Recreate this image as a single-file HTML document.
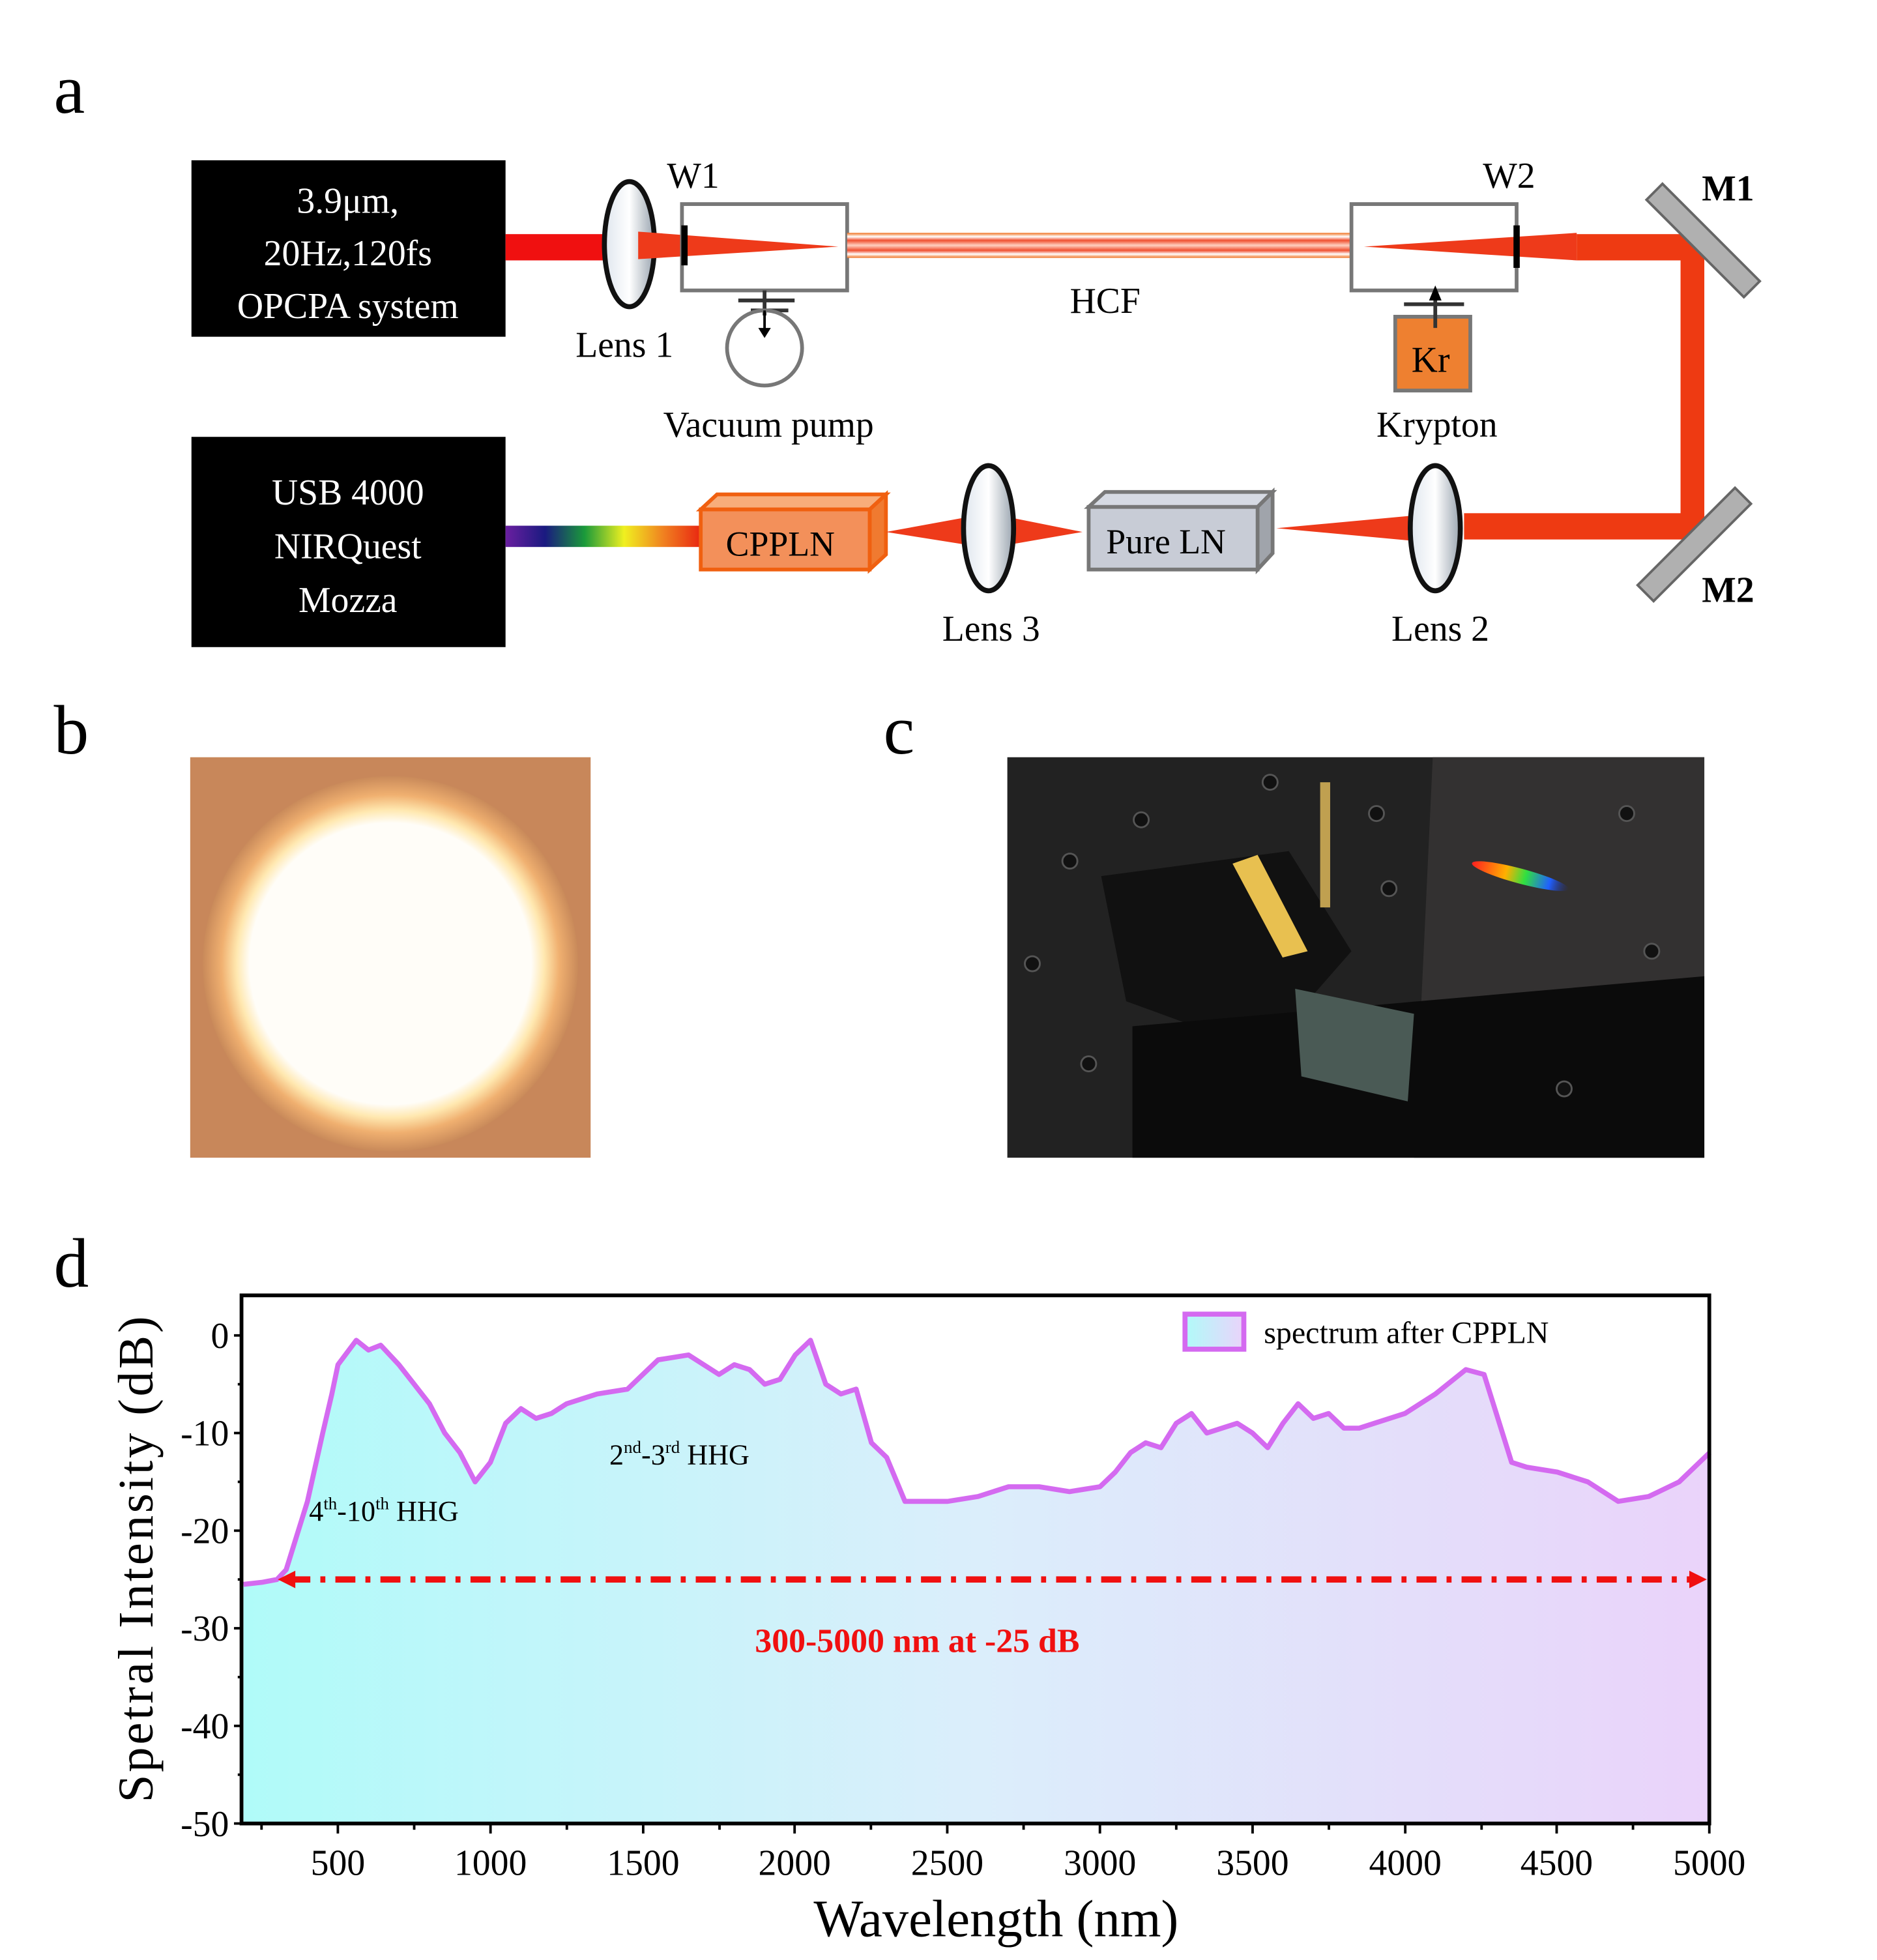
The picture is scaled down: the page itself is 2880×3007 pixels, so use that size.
<!DOCTYPE html>
<html><head><meta charset="utf-8"><style>html,body{margin:0;padding:0;background:#fff}svg{display:block}</style></head><body>
<svg width="2880" height="3007" viewBox="0 0 1500 1566" xmlns="http://www.w3.org/2000/svg" font-family="Liberation Serif, serif">
<defs>
<linearGradient id="lens" x1="0" x2="1"><stop offset="0" stop-color="#dfe6ee"/><stop offset="0.5" stop-color="#ffffff"/><stop offset="1" stop-color="#9aa5b0"/></linearGradient>
<linearGradient id="rain" x1="0" x2="1"><stop offset="0" stop-color="#6a1fa0"/><stop offset="0.2" stop-color="#1a1a80"/><stop offset="0.4" stop-color="#1a9a3a"/><stop offset="0.6" stop-color="#f0f020"/><stop offset="0.8" stop-color="#f08020"/><stop offset="1" stop-color="#e82010"/></linearGradient>
<linearGradient id="fib" x1="0" y1="0" x2="0" y2="1"><stop offset="0" stop-color="#f07020"/><stop offset="0.15" stop-color="#fff"/><stop offset="0.3" stop-color="#f05030"/><stop offset="0.5" stop-color="#ffd0c0"/><stop offset="0.7" stop-color="#f05030"/><stop offset="0.85" stop-color="#fff"/><stop offset="1" stop-color="#f07020"/></linearGradient>
<radialGradient id="sun" cx="0.5" cy="0.5" r="0.5"><stop offset="0.75" stop-color="#fffdf8"/><stop offset="0.82" stop-color="#ffe8b0"/><stop offset="0.9" stop-color="#f0b070"/><stop offset="1" stop-color="#c98a5a"/></radialGradient>
<linearGradient id="fillg" x1="0" x2="1"><stop offset="0" stop-color="#b0fbf9"/><stop offset="0.5" stop-color="#dbeefb"/><stop offset="1" stop-color="#ead3fa"/></linearGradient>
<linearGradient id="leg" x1="0" x2="1"><stop offset="0" stop-color="#b0fbf9"/><stop offset="1" stop-color="#ead3fa"/></linearGradient>
<linearGradient id="streak" x1="0" x2="1"><stop offset="0" stop-color="#ff2020"/><stop offset="0.35" stop-color="#ffb000"/><stop offset="0.55" stop-color="#30e040"/><stop offset="0.8" stop-color="#2060ff"/><stop offset="1" stop-color="#2030a0" stop-opacity="0"/></linearGradient>
</defs>

<text x="43" y="90" font-size="56">a</text>
<rect x="153" y="128" width="251" height="141" fill="#000"/>
<g fill="#fff" font-size="29" text-anchor="middle"><text x="278" y="170">3.9μm,</text><text x="278" y="212">20Hz,120fs</text><text x="278" y="254">OPCPA system</text></g>
<rect x="404" y="187" width="92" height="21" fill="#f01010"/>
<ellipse cx="503" cy="195" rx="20" ry="50" fill="url(#lens)" stroke="#111" stroke-width="4"/>
<polygon points="510,185 670,197 510,207" fill="#ee3a1a"/>
<rect x="545" y="163" width="132" height="69" fill="none" stroke="#777" stroke-width="3"/>
<line x1="547" y1="180" x2="547" y2="212" stroke="#000" stroke-width="5"/>
<text x="533" y="150" font-size="29">W1</text>
<rect x="677" y="186" width="403" height="20" fill="url(#fib)"/>
<rect x="1080" y="163" width="132" height="69" fill="none" stroke="#777" stroke-width="3"/>
<polygon points="1090,197 1260,186 1260,208" fill="#ee3a1a"/>
<line x1="1212" y1="180" x2="1212" y2="214" stroke="#000" stroke-width="5"/>
<text x="1185" y="150" font-size="29">W2</text>
<rect x="1260" y="187" width="102" height="21" fill="#ee3a12"/>
<rect x="1343" y="187" width="19" height="243" fill="#ee3a12"/>
<rect x="1170" y="410" width="192" height="21" fill="#ee3a12"/>
<rect x="1345" y="140" width="18" height="110" fill="#b0b0b0" stroke="#666" stroke-width="2" transform="rotate(-45 1354 185)"/>
<rect x="1345" y="380" width="18" height="110" fill="#b0b0b0" stroke="#666" stroke-width="2" transform="rotate(45 1354 435)"/>
<text x="1360" y="160" font-size="29" font-weight="bold">M1</text>
<text x="1360" y="481" font-size="29" font-weight="bold">M2</text>
<text x="855" y="250" font-size="29">HCF</text>
<text x="460" y="285" font-size="29">Lens 1</text>
<path d="M611 232 V252 M590 240 H635 M600 248 H630" stroke="#333" stroke-width="3" fill="none"/>
<circle cx="611" cy="278" r="30" fill="none" stroke="#777" stroke-width="3"/>
<path d="M611 248 V268" stroke="#000" stroke-width="2"/><polygon points="606,262 616,262 611,270" fill="#000"/>
<text x="530" y="349" font-size="29">Vacuum pump</text>
<rect x="1115" y="253" width="60" height="59" fill="#ee8030" stroke="#777" stroke-width="3"/>
<path d="M1147 232 V262 M1122 243 H1170" stroke="#333" stroke-width="3" fill="none"/>
<polygon points="1142,240 1152,240 1147,228" fill="#000"/>
<text x="1128" y="297" font-size="29">Kr</text>
<text x="1100" y="349" font-size="29">Krypton</text>

<rect x="153" y="349" width="251" height="168" fill="#000"/>
<g fill="#fff" font-size="29" text-anchor="middle"><text x="278" y="403">USB 4000</text><text x="278" y="446">NIRQuest</text><text x="278" y="489">Mozza</text></g>
<rect x="404" y="420" width="158" height="17" fill="url(#rain)"/>
<polygon points="560,407 573,395 708,395 695,407" fill="#f8ad7a" stroke="#f06010" stroke-width="3"/>
<polygon points="695,407 708,395 708,443 695,455" fill="#f07a30" stroke="#f06010" stroke-width="3"/>
<rect x="560" y="407" width="135" height="48" fill="#f3905a" stroke="#f06010" stroke-width="3"/>
<text x="580" y="444" font-size="28">CPPLN</text>
<polygon points="708,425 790,410 865,425 790,438" fill="#ee3a1a"/>
<ellipse cx="790" cy="422" rx="20" ry="50" fill="url(#lens)" stroke="#111" stroke-width="4"/>
<polygon points="870,405 883,393 1017,393 1005,405" fill="#d6dae3" stroke="#777" stroke-width="3"/>
<polygon points="1005,405 1017,393 1017,442 1005,455" fill="#a0a4ab" stroke="#777" stroke-width="3"/>
<rect x="870" y="405" width="135" height="50" fill="#c8ccd6" stroke="#777" stroke-width="3"/>
<text x="884" y="442" font-size="28">Pure LN</text>
<polygon points="1020,422 1150,410 1150,434" fill="#ee3a1a"/>
<ellipse cx="1147" cy="422" rx="20" ry="50" fill="url(#lens)" stroke="#111" stroke-width="4"/>
<text x="753" y="512" font-size="29">Lens 3</text>
<text x="1112" y="512" font-size="29">Lens 2</text>

<text x="43" y="602" font-size="56">b</text>
<rect x="152" y="605" width="320" height="320" fill="#c8875a"/>
<circle cx="312" cy="770" r="150" fill="url(#sun)"/>
<text x="706" y="602" font-size="56">c</text>
<rect x="805" y="605" width="557" height="320" fill="#222"/>
<polygon points="1145,605 1362,605 1362,925 1130,925" fill="#333131"/>
<polygon points="880,700 1030,680 1080,760 1010,840 900,800" fill="#111"/>
<polygon points="905,820 1362,780 1362,925 905,925" fill="#0b0b0b"/>
<polygon points="985,690 1005,683 1045,760 1025,765" fill="#e8c050"/>
<rect x="1055" y="625" width="8" height="100" fill="#c0a050"/>
<polygon points="1035,790 1130,810 1125,880 1040,860" fill="#4a5a55"/>
<ellipse cx="1215" cy="700" rx="40" ry="6" fill="url(#streak)" transform="rotate(15 1215 700)"/>
<g fill="#111" stroke="#555" stroke-width="1.5"><circle cx="855" cy="688" r="6"/><circle cx="912" cy="655" r="6"/><circle cx="1015" cy="625" r="6"/><circle cx="1100" cy="650" r="6"/><circle cx="825" cy="770" r="6"/><circle cx="870" cy="850" r="6"/><circle cx="1110" cy="710" r="6"/><circle cx="1300" cy="650" r="6"/><circle cx="1250" cy="870" r="6"/><circle cx="1320" cy="760" r="6"/></g>

<text x="43" y="1028" font-size="56">d</text>
<path d="M194.6,1265.9 L209.2,1264.3 L221.4,1262 L228.7,1254.2 L245.7,1199.6 L257.9,1145 L265.2,1113.8 L270.1,1090.4 L284.7,1070.9 L294.5,1078.7 L304.2,1074.8 L318.8,1090.4 L331,1106 L343.2,1121.6 L355.4,1145 L367.5,1160.6 L379.7,1184 L391.9,1168.4 L404.1,1137.2 L416.3,1125.5 L428.4,1133.3 L440.6,1129.4 L452.8,1121.6 L477.2,1113.8 L501.5,1109.9 L513.7,1098.2 L525.9,1086.5 L550.2,1082.6 L574.6,1098.2 L586.8,1090.4 L599,1094.3 L611.1,1106 L623.3,1102.1 L635.5,1082.6 L647.7,1070.9 L659.9,1106 L672,1113.8 L684.2,1109.9 L696.4,1152.8 L708.6,1164.5 L723.2,1199.6 L757.3,1199.6 L781.7,1195.7 L806,1187.9 L830.4,1187.9 L854.7,1191.8 L879.1,1187.9 L891.3,1176.2 L903.5,1160.6 L915.6,1152.8 L927.8,1156.7 L940,1137.2 L952.2,1129.4 L964.4,1145 L976.5,1141.1 L988.7,1137.2 L1000.9,1145 L1013.1,1156.7 L1025.3,1137.2 L1037.4,1121.6 L1049.6,1133.3 L1061.8,1129.4 L1074,1141.1 L1086.2,1141.1 L1098.3,1137.2 L1122.7,1129.4 L1147.1,1113.8 L1171.4,1094.3 L1186,1098.2 L1195.8,1129.4 L1208,1168.4 L1220.1,1172.3 L1244.5,1176.2 L1268.9,1184 L1293.2,1199.6 L1317.6,1195.7 L1341.9,1184 L1366.3,1160.6 L1366.3,1457 L194.6,1457 Z" fill="url(#fillg)"/>
<path d="M194.6,1265.9 L209.2,1264.3 L221.4,1262 L228.7,1254.2 L245.7,1199.6 L257.9,1145 L265.2,1113.8 L270.1,1090.4 L284.7,1070.9 L294.5,1078.7 L304.2,1074.8 L318.8,1090.4 L331,1106 L343.2,1121.6 L355.4,1145 L367.5,1160.6 L379.7,1184 L391.9,1168.4 L404.1,1137.2 L416.3,1125.5 L428.4,1133.3 L440.6,1129.4 L452.8,1121.6 L477.2,1113.8 L501.5,1109.9 L513.7,1098.2 L525.9,1086.5 L550.2,1082.6 L574.6,1098.2 L586.8,1090.4 L599,1094.3 L611.1,1106 L623.3,1102.1 L635.5,1082.6 L647.7,1070.9 L659.9,1106 L672,1113.8 L684.2,1109.9 L696.4,1152.8 L708.6,1164.5 L723.2,1199.6 L757.3,1199.6 L781.7,1195.7 L806,1187.9 L830.4,1187.9 L854.7,1191.8 L879.1,1187.9 L891.3,1176.2 L903.5,1160.6 L915.6,1152.8 L927.8,1156.7 L940,1137.2 L952.2,1129.4 L964.4,1145 L976.5,1141.1 L988.7,1137.2 L1000.9,1145 L1013.1,1156.7 L1025.3,1137.2 L1037.4,1121.6 L1049.6,1133.3 L1061.8,1129.4 L1074,1141.1 L1086.2,1141.1 L1098.3,1137.2 L1122.7,1129.4 L1147.1,1113.8 L1171.4,1094.3 L1186,1098.2 L1195.8,1129.4 L1208,1168.4 L1220.1,1172.3 L1244.5,1176.2 L1268.9,1184 L1293.2,1199.6 L1317.6,1195.7 L1341.9,1184 L1366.3,1160.6" fill="none" stroke="#d46af0" stroke-width="4" stroke-linejoin="round"/>
<rect x="193" y="1035" width="1173" height="422" fill="none" stroke="#000" stroke-width="3"/>
<g stroke="#000" stroke-width="2">
<line x1="187" y1="1067" x2="193" y2="1067"/><line x1="187" y1="1145" x2="193" y2="1145"/><line x1="187" y1="1223" x2="193" y2="1223"/><line x1="187" y1="1301" x2="193" y2="1301"/><line x1="187" y1="1379" x2="193" y2="1379"/><line x1="187" y1="1457" x2="193" y2="1457"/>
<line x1="190" y1="1106" x2="193" y2="1106"/><line x1="190" y1="1184" x2="193" y2="1184"/><line x1="190" y1="1262" x2="193" y2="1262"/><line x1="190" y1="1340" x2="193" y2="1340"/><line x1="190" y1="1418" x2="193" y2="1418"/>
<line x1="270" y1="1457" x2="270" y2="1465"/><line x1="392" y1="1457" x2="392" y2="1465"/><line x1="514" y1="1457" x2="514" y2="1465"/><line x1="635" y1="1457" x2="635" y2="1465"/><line x1="757" y1="1457" x2="757" y2="1465"/><line x1="879" y1="1457" x2="879" y2="1465"/><line x1="1001" y1="1457" x2="1001" y2="1465"/><line x1="1123" y1="1457" x2="1123" y2="1465"/><line x1="1244" y1="1457" x2="1244" y2="1465"/><line x1="1366" y1="1457" x2="1366" y2="1465"/>
<line x1="209" y1="1457" x2="209" y2="1462"/><line x1="331" y1="1457" x2="331" y2="1462"/><line x1="453" y1="1457" x2="453" y2="1462"/><line x1="575" y1="1457" x2="575" y2="1462"/><line x1="696" y1="1457" x2="696" y2="1462"/><line x1="818" y1="1457" x2="818" y2="1462"/><line x1="940" y1="1457" x2="940" y2="1462"/><line x1="1062" y1="1457" x2="1062" y2="1462"/><line x1="1184" y1="1457" x2="1184" y2="1462"/><line x1="1305" y1="1457" x2="1305" y2="1462"/>
</g>
<g font-size="29" text-anchor="end"><text x="183" y="1077">0</text><text x="183" y="1155">-10</text><text x="183" y="1233">-20</text><text x="183" y="1311">-30</text><text x="183" y="1389">-40</text><text x="183" y="1467">-50</text></g>
<g font-size="29" text-anchor="middle"><text x="270" y="1498">500</text><text x="392" y="1498">1000</text><text x="514" y="1498">1500</text><text x="635" y="1498">2000</text><text x="757" y="1498">2500</text><text x="879" y="1498">3000</text><text x="1001" y="1498">3500</text><text x="1123" y="1498">4000</text><text x="1244" y="1498">4500</text><text x="1366" y="1498">5000</text></g>
<text x="796" y="1547" font-size="42" text-anchor="middle">Wavelength (nm)</text>
<text transform="translate(122 1245) rotate(-90)" font-size="40" text-anchor="middle" letter-spacing="2">Spetral Intensity (dB)</text>
<rect x="947" y="1050" width="47" height="28" fill="url(#leg)" stroke="#d46af0" stroke-width="4"/>
<text x="1010" y="1073" font-size="25">spectrum after CPPLN</text>
<text x="247" y="1215" font-size="23">4<tspan font-size="14" dy="-9">th</tspan><tspan dy="9">-10</tspan><tspan font-size="14" dy="-9">th</tspan><tspan dy="9"> HHG</tspan></text>
<text x="487" y="1170" font-size="23">2<tspan font-size="14" dy="-9">nd</tspan><tspan dy="9">-3</tspan><tspan font-size="14" dy="-9">rd</tspan><tspan dy="9"> HHG</tspan></text>
<line x1="232" y1="1262" x2="1352" y2="1262" stroke="#f01010" stroke-width="5" stroke-dasharray="16,8,4,8"/>
<polygon points="222,1262 236,1255 236,1269" fill="#f01010"/>
<polygon points="1364,1262 1350,1255 1350,1269" fill="#f01010"/>
<text x="733" y="1320" font-size="27" font-weight="bold" fill="#f01010" text-anchor="middle">300-5000 nm at -25 dB</text>
</svg>
</body></html>
